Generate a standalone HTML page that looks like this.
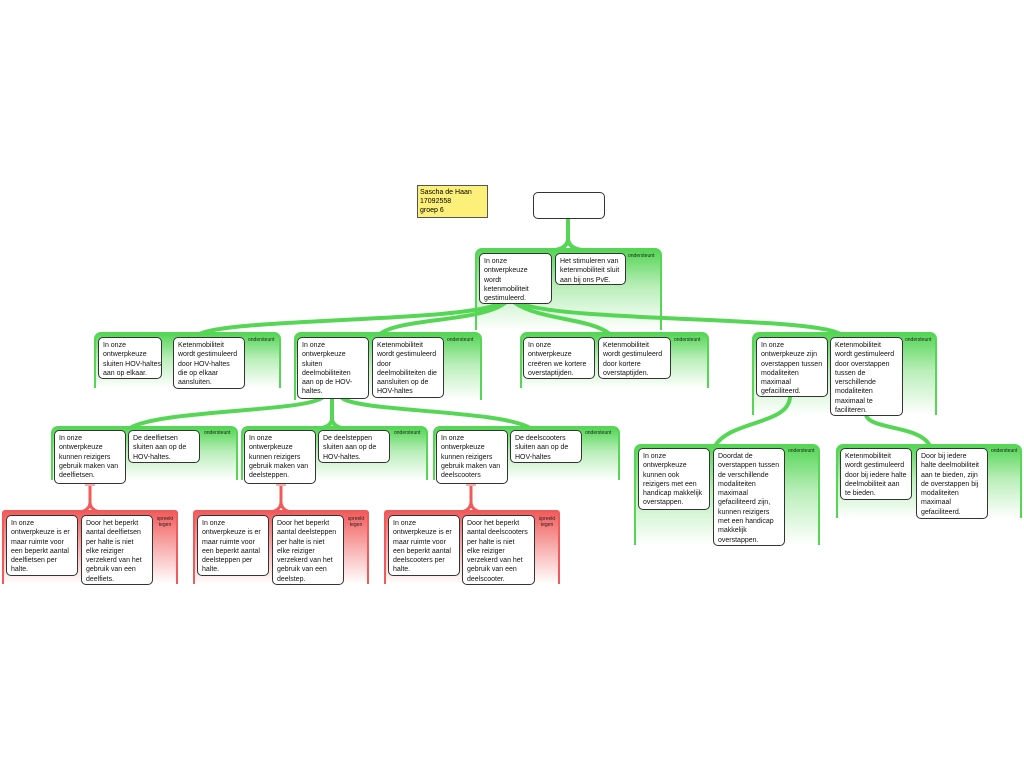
<!DOCTYPE html>
<html><head><meta charset="utf-8"><style>
body{margin:0;width:1024px;height:768px;background:#fff;position:relative;overflow:hidden;font-family:"Liberation Sans",sans-serif}
.g{position:absolute;border:2px solid #55d655;border-bottom:none;border-radius:7px 7px 0 0;background:linear-gradient(#55d655 0%,#b8eeb8 45%,#fff 100%);box-sizing:border-box}
.r{position:absolute;border:2px solid #f05a5a;border-bottom:none;border-radius:3px 3px 0 0;background:linear-gradient(#f25c5c 0%,#f8b0b0 50%,#fff 100%);box-sizing:border-box}
.b{position:absolute;z-index:2;background:#fff;border:1.5px solid #333;border-radius:5px;font-size:7px;line-height:9.3px;color:#111;padding:3px 4px;box-sizing:border-box;white-space:nowrap}
.l{position:absolute;z-index:2;font-size:5px;color:#222;line-height:6px;text-align:center}
svg{position:absolute;left:0;top:0;z-index:1}
</style></head><body>
<svg width="1024" height="768">
<g fill="none" stroke="#55d655" stroke-width="4" stroke-linecap="round">
<path d="M568,218 L568,238 Q568,248 555,250"/><path d="M568,238 Q568,248 582,250"/>
<path d="M500,303 C470,322 230,318 200,334"/>
<path d="M505,303 C480,322 400,318 380,334"/>
<path d="M515,303 C540,320 590,318 610,334"/>
<path d="M520,303 C560,322 810,316 840,334"/>
<path d="M322,398 C300,412 160,410 130,428"/>
<path d="M332,398 L332,418 Q332,426 322,428"/><path d="M332,418 Q332,426 342,428"/>
<path d="M342,398 C360,412 500,410 530,428"/>
<path d="M790,396 C790,425 730,420 715,446"/>
<path d="M866,415 C870,430 920,425 930,446"/>
</g>
<g fill="none" stroke="#f05a5a" stroke-width="3">
<path d="M90,486 L90,502 Q90,510 80,512"/><path d="M90,502 Q90,510 100,512"/>
<path d="M281,486 L281,502 Q281,510 271,512"/><path d="M281,502 Q281,510 291,512"/>
<path d="M471,486 L471,502 Q471,510 461,512"/><path d="M471,502 Q471,510 481,512"/>
</g>
<g stroke="#f05a5a" stroke-width="1"><path d="M85,485h10M276,485h10M466,485h10"/></g>
</svg>
<div style="position:absolute;left:417px;top:185px;width:71px;height:33px;background:#fdf07a;border:1px solid #555;box-sizing:border-box;font-size:7px;line-height:9px;padding:2px 2px;font-family:'Liberation Sans',sans-serif">Sascha de Haan<br>17092558<br>groep 6</div>
<div class="b" style="left:533px;top:192px;width:72px;height:27px;border-radius:5px"></div>

<div class="g" style="left:475px;top:248px;width:187px;height:82px"></div>
<div class="b" style="left:479px;top:253px;width:73px;height:51px">In onze<br>ontwerpkeuze<br>wordt<br>ketenmobiliteit<br>gestimuleerd.</div>
<div class="b" style="left:555px;top:253px;width:71px;height:32px">Het stimuleren van<br>ketenmobiliteit sluit<br>aan bij ons PvE.</div>
<div class="l" style="left:628px;top:253px">ondersteunt</div>

<div class="g" style="left:94px;top:332px;width:187px;height:56px"></div>
<div class="b" style="left:98px;top:337px;width:64px;height:42px">In onze<br>ontwerpkeuze<br>sluiten HOV-haltes<br>aan op elkaar.</div>
<div class="b" style="left:173px;top:337px;width:72px;height:52px">Ketenmobiliteit<br>wordt gestimuleerd<br>door HOV-haltes<br>die op elkaar<br>aansluiten.</div>
<div class="l" style="left:248px;top:337px">ondersteunt</div>

<div class="g" style="left:294px;top:332px;width:188px;height:68px"></div>
<div class="b" style="left:297px;top:337px;width:72px;height:62px">In onze<br>ontwerpkeuze<br>sluiten<br>deelmobiliteiten<br>aan op de HOV-<br>haltes.</div>
<div class="b" style="left:372px;top:337px;width:72px;height:61px">Ketenmobiliteit<br>wordt gestimuleerd<br>door<br>deelmobiliteiten die<br>aansluiten op de<br>HOV-haltes</div>
<div class="l" style="left:447px;top:337px">ondersteunt</div>

<div class="g" style="left:520px;top:332px;width:189px;height:56px"></div>
<div class="b" style="left:523px;top:337px;width:72px;height:42px">In onze<br>ontwerpkeuze<br>creëren we kortere<br>overstaptijden.</div>
<div class="b" style="left:598px;top:337px;width:73px;height:42px">Ketenmobiliteit<br>wordt gestimuleerd<br>door kortere<br>overstaptijden.</div>
<div class="l" style="left:674px;top:337px">ondersteunt</div>

<div class="g" style="left:752px;top:332px;width:185px;height:83px"></div>
<div class="b" style="left:756px;top:337px;width:72px;height:60px">In onze<br>ontwerpkeuze zijn<br>overstappen tussen<br>modaliteiten<br>maximaal<br>gefaciliteerd.</div>
<div class="b" style="left:830px;top:337px;width:73px;height:79px">Ketenmobiliteit<br>wordt gestimuleerd<br>door overstappen<br>tussen de<br>verschillende<br>modaliteiten<br>maximaal te<br>faciliteren.</div>
<div class="l" style="left:905px;top:337px">ondersteunt</div>

<div class="g" style="left:51px;top:426px;width:187px;height:54px"></div>
<div class="b" style="left:54px;top:430px;width:72px;height:54px">In onze<br>ontwerpkeuze<br>kunnen reizigers<br>gebruik maken van<br>deelfietsen.</div>
<div class="b" style="left:128px;top:430px;width:72px;height:33px">De deelfietsen<br>sluiten aan op de<br>HOV-haltes.</div>
<div class="l" style="left:204px;top:430px">ondersteunt</div>

<div class="g" style="left:241px;top:426px;width:187px;height:54px"></div>
<div class="b" style="left:244px;top:430px;width:72px;height:54px">In onze<br>ontwerpkeuze<br>kunnen reizigers<br>gebruik maken van<br>deelsteppen.</div>
<div class="b" style="left:318px;top:430px;width:72px;height:33px">De deelsteppen<br>sluiten aan op de<br>HOV-haltes.</div>
<div class="l" style="left:394px;top:430px">ondersteunt</div>

<div class="g" style="left:433px;top:426px;width:187px;height:54px"></div>
<div class="b" style="left:436px;top:430px;width:72px;height:54px">In onze<br>ontwerpkeuze<br>kunnen reizigers<br>gebruik maken van<br>deelscooters</div>
<div class="b" style="left:510px;top:430px;width:72px;height:33px">De deelscooters<br>sluiten aan op de<br>HOV-haltes</div>
<div class="l" style="left:585px;top:430px">ondersteunt</div>

<div class="g" style="left:634px;top:444px;width:186px;height:101px"></div>
<div class="b" style="left:638px;top:448px;width:72px;height:62px">In onze<br>ontwerpkeuze<br>kunnen ook<br>reizigers met een<br>handicap makkelijk<br>overstappen.</div>
<div class="b" style="left:713px;top:448px;width:72px;height:98px">Doordat de<br>overstappen tussen<br>de verschillende<br>modaliteiten<br>maximaal<br>gefaciliteerd zijn,<br>kunnen reizigers<br>met een handicap<br>makkelijk<br>overstappen.</div>
<div class="l" style="left:788px;top:448px">ondersteunt</div>

<div class="g" style="left:836px;top:444px;width:186px;height:74px"></div>
<div class="b" style="left:840px;top:448px;width:72px;height:52px">Ketenmobiliteit<br>wordt gestimuleerd<br>door bij iedere halte<br>deelmobiliteit aan<br>te bieden.</div>
<div class="b" style="left:916px;top:448px;width:72px;height:71px">Door bij iedere<br>halte deelmobiliteit<br>aan te bieden, zijn<br>de overstappen bij<br>modaliteiten<br>maximaal<br>gefaciliteerd.</div>
<div class="l" style="left:991px;top:448px">ondersteunt</div>

<div class="r" style="left:2px;top:510px;width:176px;height:74px"></div>
<div class="b" style="left:6px;top:515px;width:72px;height:61px">In onze<br>ontwerpkeuze is er<br>maar ruimte voor<br>een beperkt aantal<br>deelfietsen per<br>halte.</div>
<div class="b" style="left:81px;top:515px;width:72px;height:70px">Door het beperkt<br>aantal deelfietsen<br>per halte is niet<br>elke reiziger<br>verzekerd van het<br>gebruik van een<br>deelfiets.</div>
<div class="l" style="left:155px;top:516px;width:20px">spreekt<br>tegen</div>

<div class="r" style="left:193px;top:510px;width:176px;height:74px"></div>
<div class="b" style="left:197px;top:515px;width:72px;height:61px">In onze<br>ontwerpkeuze is er<br>maar ruimte voor<br>een beperkt aantal<br>deelsteppen per<br>halte.</div>
<div class="b" style="left:272px;top:515px;width:72px;height:70px">Door het beperkt<br>aantal deelsteppen<br>per halte is niet<br>elke reiziger<br>verzekerd van het<br>gebruik van een<br>deelstep.</div>
<div class="l" style="left:346px;top:516px;width:20px">spreekt<br>tegen</div>

<div class="r" style="left:384px;top:510px;width:176px;height:74px"></div>
<div class="b" style="left:388px;top:515px;width:72px;height:61px">In onze<br>ontwerpkeuze is er<br>maar ruimte voor<br>een beperkt aantal<br>deelscooters per<br>halte.</div>
<div class="b" style="left:462px;top:515px;width:73px;height:70px">Door het beperkt<br>aantal deelscooters<br>per halte is niet<br>elke reiziger<br>verzekerd van het<br>gebruik van een<br>deelscooter.</div>
<div class="l" style="left:537px;top:516px;width:20px">spreekt<br>tegen</div>
</body></html>
